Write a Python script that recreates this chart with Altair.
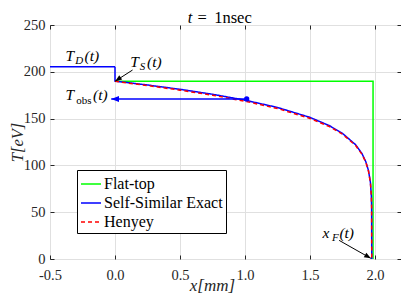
import altair as alt
import pandas as pd

# ---------------- data ----------------
series_names = ["Flat-top", "Self-Similar Exact", "Henyey"]
series_colors = ["#00ff00", "#0000ff", "#ff0000"]

flat_x = [0.0, 1.985, 1.985]
flat_T = [190.0, 190.0, 0.0]

ss_x = [-0.5, 0.0, 0.0, 0.1, 0.25, 0.5, 0.75, 1.0, 1.25, 1.5, 1.65, 1.75,
        1.85, 1.9, 1.93, 1.95, 1.965, 1.972, 1.974, 1.975]
ss_T = [205.5, 205.5, 190.0, 188.4, 185.9, 181.3, 176.0, 169.7, 161.9, 151.3,
        142.4, 134.2, 122.2, 112.6, 103.7, 94.4, 81.6, 67.3, 55.0, 0.0]

hen_x = [0.0, 0.1, 0.25, 0.5, 0.75, 1.0, 1.25, 1.5, 1.65, 1.75, 1.85, 1.9,
         1.93, 1.95, 1.965, 1.972, 1.974, 1.975]
hen_T = [190.0, 188.0, 185.3, 180.4, 175.0, 168.6, 160.8, 150.2, 141.4, 133.3,
         121.4, 111.9, 103.1, 93.8, 81.0, 67.0, 55.0, 0.0]

x_ticks = [-0.5, 0, 0.5, 1, 1.5, 2]
y_ticks = [0, 50, 100, 150, 200, 250]

# annotation text pieces (data coordinates)
main_txt = ["T", "(t)", "T", "(t)", "T", "(t)", "x", "(t)"]
main_x = [-0.381, -0.234, 0.118, 0.247, -0.381, -0.169, 1.597, 1.726]
main_T = [211.5, 211.5, 205.5, 205.5, 170.0, 170.0, 22.8, 22.8]

sub_txt = ["D", "S", "F"]
sub_x = [-0.305, 0.190, 1.669]
sub_T = [211.5, 205.5, 22.8]

obs_txt = ["obs"]
obs_x = [-0.298]
obs_T = [170.0]

# title "t = 1nsec" pieces, placed just above the frame
title_it_txt = ["t"]
title_it_x = [0.559]
title_up_txt = ["=", "1nsec"]
title_up_x = [0.635, 0.763]
title_T = 252.1

# arrows: tail -> tip
arr_x = [0.135, 1.724]
arr_T = [201.9, 19.9]
arr_x2 = [0.0015, 1.968]
arr_T2 = [190.0, 0.7]
arr_angle = [235.4, 120.5]

obs_line_x = [1.013]
obs_line_x2 = [-0.029]
obs_line_T = [171.0]
obs_head_angle = [270.0]

# ---------------- tables ----------------
rows = []
for name, xs, ts in [("Flat-top", flat_x, flat_T),
                     ("Self-Similar Exact", ss_x, ss_T),
                     ("Henyey", hen_x, hen_T)]:
    for i, (a, b) in enumerate(zip(xs, ts)):
        rows.append({"series": name, "x": a, "T": b, "idx": i})
df = pd.DataFrame(rows)

main_df = pd.DataFrame({"x": main_x, "T": main_T, "t": main_txt})
sub_df = pd.DataFrame({"x": sub_x, "T": sub_T, "t": sub_txt})
obs_df = pd.DataFrame({"x": obs_x, "T": obs_T, "t": obs_txt})
tit_it_df = pd.DataFrame({"x": title_it_x, "T": [title_T] * len(title_it_x), "t": title_it_txt})
tit_up_df = pd.DataFrame({"x": title_up_x, "T": [title_T] * len(title_up_x), "t": title_up_txt})
arr_df = pd.DataFrame({"x": arr_x, "T": arr_T, "x2": arr_x2, "T2": arr_T2, "ang": arr_angle})
obs_arr_df = pd.DataFrame({"x": obs_line_x, "x2": obs_line_x2, "T": obs_line_T, "ang": obs_head_angle})

FONT = "Liberation Serif"
AX = "#262626"
xscale = alt.Scale(domain=[-0.5, 2.2], nice=False, zero=False)
yscale = alt.Scale(domain=[0, 250], nice=False)
head_path = "M0,0L-0.38,1L0.38,1Z"

legend = alt.Legend(title=None, orient="none", legendX=27, legendY=145,
                    direction="vertical", fillColor="white", strokeColor="black",
                    padding=3, symbolType="stroke", symbolSize=400,
                    symbolStrokeWidth=1.5, labelFont=FONT, labelFontSize=16,
                    labelOffset=2, rowPadding=0, labelColor="black", cornerRadius=0)

color_enc = alt.Color("series:N", scale=alt.Scale(domain=series_names, range=series_colors),
                      legend=legend)
dash_enc = alt.StrokeDash("series:N",
                          scale=alt.Scale(domain=series_names, range=[[1, 0], [1, 0], [4, 3]]),
                          legend=legend)

x_axis_main = alt.Axis(orient="bottom", values=x_ticks, grid=True, gridColor="#e0e0e0",
                       ticks=False, domain=False, labelFont=FONT, labelFontSize=14.5,
                       labelColor=AX, labelPadding=9, labelFlush=False,
                       labelExpr="replace(datum.label, '\u2212', '-')",
                       title="x[mm]", titleFont=FONT, titleFontSize=17,
                       titleFontStyle="italic", titleFontWeight="normal", titleColor=AX,
                       titleX=162, titleY=31, titleBaseline="alphabetic", titleAlign="center")
y_axis_main = alt.Axis(orient="left", values=y_ticks, grid=True, gridColor="#e0e0e0",
                       ticks=False, domain=False, labelFont=FONT, labelFontSize=14.5,
                       labelColor=AX, labelPadding=5, labelFlush=False,
                       title="T[eV]", titleFont=FONT, titleFontSize=16.5,
                       titleFontStyle="italic", titleFontWeight="normal", titleColor=AX,
                       titleX=-28, titleY=117, titleBaseline="alphabetic",
                       titleAlign="center", titleAngle=270)


def tick_axis(orient, vals):
    return alt.Axis(orient=orient, values=vals, grid=False, labels=False, domain=False,
                    ticks=True, tickSize=4, tickColor=AX, tickWidth=1, offset=-4, title=None)


def line_layer(name, axes):
    xa = x_axis_main if axes else None
    ya = y_axis_main if axes else None
    return alt.Chart(df).transform_filter(alt.datum.series == name).mark_line(
        strokeWidth=1.5).encode(
        x=alt.X("x:Q", scale=xscale, axis=xa),
        y=alt.Y("T:Q", scale=yscale, axis=ya),
        color=color_enc,
        strokeDash=dash_enc,
        order="idx:Q",
    )


green = line_layer("Flat-top", True)
blue = line_layer("Self-Similar Exact", False)
red = line_layer("Henyey", False)

ticks_a = alt.Chart(df).mark_point(opacity=0).encode(
    x=alt.X("x:Q", scale=xscale, axis=tick_axis("bottom", x_ticks)),
    y=alt.Y("T:Q", scale=yscale, axis=tick_axis("left", y_ticks)),
)
ticks_b = alt.Chart(df).mark_point(opacity=0).encode(
    x=alt.X("x:Q", scale=xscale, axis=tick_axis("top", x_ticks)),
    y=alt.Y("T:Q", scale=yscale, axis=tick_axis("right", y_ticks)),
)

ax_none_x = alt.X("x:Q", scale=xscale, axis=None)
ax_none_y = alt.Y("T:Q", scale=yscale, axis=None)

obs_line = alt.Chart(obs_arr_df).mark_rule(color="#0000ff", strokeWidth=1.5).encode(
    x=ax_none_x, x2="x2:Q", y=ax_none_y)
obs_head = alt.Chart(obs_arr_df).mark_point(
    shape=head_path, filled=True, color="#0000ff", size=240, opacity=1).encode(
    x=alt.X("x2:Q", scale=xscale, axis=None), y=ax_none_y,
    angle=alt.Angle("ang:Q", scale=None))
obs_dot = alt.Chart(obs_arr_df).mark_circle(color="#0000ff", size=28, opacity=1).encode(
    x=ax_none_x, y=ax_none_y)

arr_line = alt.Chart(arr_df).mark_rule(color="black", strokeWidth=1).encode(
    x=ax_none_x, x2="x2:Q", y=ax_none_y, y2="T2:Q")
arr_head = alt.Chart(arr_df).mark_point(
    shape=head_path, filled=True, color="black", size=180, opacity=1).encode(
    x=alt.X("x2:Q", scale=xscale, axis=None), y=alt.Y("T2:Q", scale=yscale, axis=None),
    angle=alt.Angle("ang:Q", scale=None))

txt_main = alt.Chart(main_df).mark_text(
    font=FONT, fontSize=15.5, fontStyle="italic", align="left", baseline="alphabetic",
    color="black").encode(x=ax_none_x, y=ax_none_y, text="t:N")
txt_sub = alt.Chart(sub_df).mark_text(
    font=FONT, fontSize=11, fontStyle="italic", align="left", baseline="alphabetic",
    dy=3, color="black").encode(x=ax_none_x, y=ax_none_y, text="t:N")
txt_obs = alt.Chart(obs_df).mark_text(
    font=FONT, fontSize=11, align="left", baseline="alphabetic",
    dy=4, color="black").encode(x=ax_none_x, y=ax_none_y, text="t:N")
txt_tit_it = alt.Chart(tit_it_df).mark_text(
    font=FONT, fontSize=16.5, fontStyle="italic", align="left", baseline="alphabetic",
    color="black").encode(x=ax_none_x, y=ax_none_y, text="t:N")
txt_tit_up = alt.Chart(tit_up_df).mark_text(
    font=FONT, fontSize=16.5, align="left", baseline="alphabetic",
    color="black").encode(x=ax_none_x, y=ax_none_y, text="t:N")

chart = alt.layer(
    green, blue, red, ticks_a, ticks_b,
    obs_line, obs_head, obs_dot, arr_line, arr_head,
    txt_main, txt_sub, txt_obs, txt_tit_it, txt_tit_up,
).resolve_axis(x="independent", y="independent").properties(
    width=351, height=234,
    autosize=alt.AutoSizeParams(type="none"),
    padding={"left": 42, "top": 17, "right": 0, "bottom": 34},
).configure_view(stroke=AX, strokeWidth=1)

chart.save("out.html", embed_options={"renderer": "svg", "actions": False})
